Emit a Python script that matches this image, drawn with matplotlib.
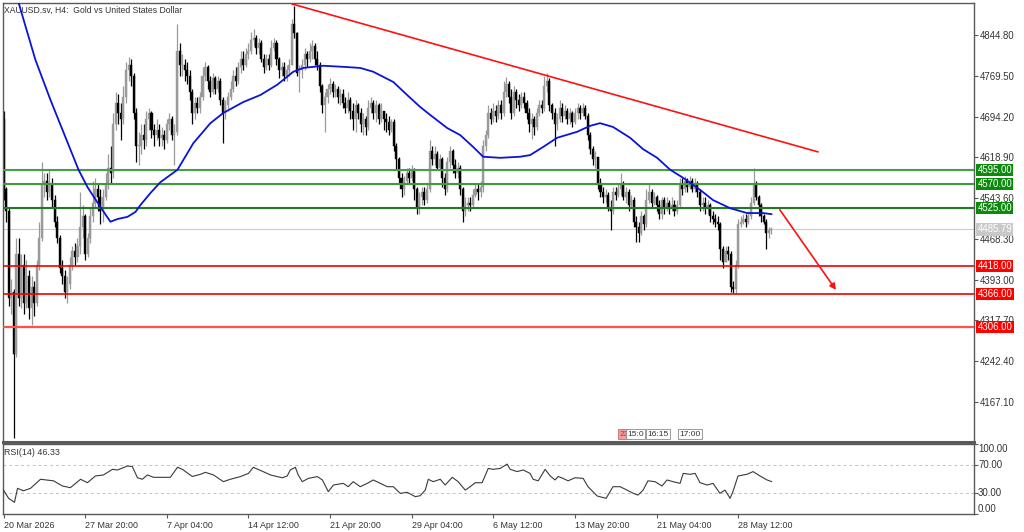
import matplotlib
matplotlib.use("Agg")
import matplotlib.pyplot as plt
from matplotlib.transforms import blended_transform_factory as blend

plt.rcParams['font.family'] = ['Liberation Sans', 'DejaVu Sans']

# ---------------- data ----------------
first_open = 4690
closes = [
    4560, 4520, 4360, 4370, 4255, 4440, 4360, 4420, 4350, 4400,
    4340, 4380, 4350, 4420, 4470, 4570, 4575, 4555, 4570, 4540,
    4500, 4470, 4415, 4400, 4370, 4385, 4420, 4445, 4435, 4455,
    4490, 4510, 4440, 4470, 4510, 4535, 4560, 4545, 4520, 4545,
    4570, 4600, 4590, 4680, 4720, 4700, 4690, 4730, 4780, 4790,
    4770, 4700, 4640, 4640, 4660, 4650, 4690, 4700, 4670, 4660,
    4670, 4655, 4660, 4650, 4680, 4690, 4660, 4665, 4815, 4790,
    4790, 4780, 4770, 4740, 4700, 4720, 4710, 4730, 4770, 4785,
    4760, 4740, 4765, 4745, 4760, 4725, 4700, 4715, 4730, 4745,
    4770, 4760, 4785, 4800, 4790, 4810, 4815, 4835, 4840, 4820,
    4830, 4800, 4785, 4800, 4790, 4820, 4830, 4800, 4780, 4785,
    4770, 4780, 4790, 4865, 4848, 4775, 4780, 4790, 4810, 4800,
    4815, 4825, 4800, 4790, 4750, 4715, 4730, 4745, 4755, 4740,
    4745, 4730, 4735, 4720, 4710, 4725, 4705, 4690, 4715, 4700,
    4680, 4690, 4675, 4710, 4720, 4700, 4715, 4690, 4705, 4690,
    4685, 4670, 4685, 4640, 4615, 4580, 4560, 4575, 4590, 4580,
    4595, 4560, 4525, 4545, 4555, 4540, 4560, 4630, 4615, 4625,
    4600, 4615, 4580, 4560, 4610, 4630, 4605, 4590, 4600, 4560,
    4520, 4530, 4535, 4530, 4550, 4560, 4555, 4565, 4640, 4660,
    4700, 4690, 4705, 4695, 4715, 4700, 4740, 4755, 4730, 4700,
    4740, 4725, 4715, 4730, 4720, 4700, 4680, 4690, 4675, 4700,
    4715, 4710, 4750, 4760, 4715, 4700, 4680, 4690, 4710, 4695,
    4705, 4690, 4700, 4685, 4700, 4710, 4700, 4710, 4695, 4660,
    4635, 4615, 4620, 4570, 4555, 4545, 4550, 4525, 4520, 4555,
    4550, 4560, 4570, 4545, 4555, 4530, 4540, 4500, 4490, 4480,
    4510, 4495, 4540, 4555, 4535, 4545, 4530, 4515, 4540, 4525,
    4535, 4525, 4530, 4520, 4530, 4570, 4560, 4575, 4565, 4575,
    4560, 4570, 4555, 4530, 4535, 4525, 4530, 4510, 4505, 4500,
    4495, 4450, 4425, 4445, 4440, 4380, 4375, 4420, 4495, 4500,
    4505, 4500, 4510, 4535, 4570, 4545, 4530, 4510, 4500, 4480, 4485, 4485.79,
]
highs = [
    4705, 4565, 4525, 4395, 4375, 4470, 4470, 4440, 4440, 4430,
    4410, 4400, 4390, 4430, 4500, 4610, 4590, 4590, 4595, 4580,
    4550, 4510, 4475, 4430, 4410, 4400, 4435, 4455, 4460, 4470,
    4555, 4530, 4515, 4480, 4525, 4575, 4580, 4570, 4560, 4560,
    4590, 4625, 4640, 4700, 4740, 4735, 4720, 4750, 4795, 4805,
    4800, 4775, 4710, 4665, 4680, 4680, 4705, 4710, 4705, 4680,
    4690, 4680, 4675, 4670, 4690, 4700, 4695, 4680, 4865, 4830,
    4810, 4800, 4795, 4780, 4745, 4730, 4730, 4740, 4785, 4795,
    4790, 4770, 4775, 4770, 4770, 4765, 4730, 4725, 4740, 4760,
    4780, 4785, 4795, 4815, 4815, 4820, 4830, 4850, 4855, 4845,
    4840, 4835, 4810, 4810, 4810, 4835, 4840, 4835, 4805, 4795,
    4795, 4790, 4800, 4875, 4898, 4850, 4790, 4800, 4820, 4815,
    4830, 4835, 4830, 4815, 4795, 4755, 4740, 4755, 4765, 4760,
    4755, 4750, 4745, 4745, 4730, 4740, 4730, 4720, 4725, 4720,
    4710, 4700, 4695, 4725, 4730, 4725, 4725, 4720, 4720, 4705,
    4700, 4695, 4690, 4690, 4645, 4620, 4590, 4585, 4600, 4600,
    4605, 4600, 4565, 4555, 4565, 4565, 4570, 4650, 4640, 4640,
    4630, 4625, 4620, 4590, 4620, 4640, 4635, 4615, 4610, 4605,
    4565, 4545, 4545, 4545, 4560, 4570, 4570, 4575, 4650, 4670,
    4715, 4710, 4720, 4715, 4725, 4725, 4760, 4768, 4760, 4745,
    4750, 4745, 4735, 4740, 4740, 4725, 4710, 4700, 4695, 4710,
    4725, 4725, 4770, 4775, 4765, 4720, 4710, 4700, 4725, 4720,
    4715, 4710, 4710, 4705, 4710, 4720, 4715, 4720, 4715, 4700,
    4665, 4640, 4630, 4620, 4580, 4565, 4560, 4555, 4540, 4565,
    4565, 4570, 4590, 4575, 4565, 4560, 4550, 4545, 4510, 4500,
    4520, 4515, 4560, 4572, 4560, 4555, 4550, 4540, 4545, 4545,
    4545, 4540, 4545, 4540, 4540, 4580, 4580, 4585, 4580, 4585,
    4580, 4580, 4575, 4560, 4545, 4545, 4540, 4535, 4520, 4515,
    4510, 4500, 4455, 4455, 4455, 4445, 4390, 4430, 4505, 4510,
    4515, 4515, 4520, 4545, 4600, 4575, 4550, 4535, 4515, 4505, 4490, 4490,
]
lows = [
    4540, 4500, 4345, 4330, 4100, 4250, 4345, 4340, 4330, 4340,
    4320, 4310, 4325, 4345, 4410, 4465, 4545, 4540, 4545, 4525,
    4490, 4460, 4405, 4385, 4360, 4350, 4375, 4410, 4420, 4425,
    4440, 4470, 4430, 4435, 4460, 4500, 4525, 4520, 4495, 4500,
    4540, 4560, 4570, 4580, 4670, 4680, 4650, 4680, 4720, 4760,
    4750, 4690, 4610, 4605, 4625, 4635, 4640, 4670, 4655, 4640,
    4650, 4640, 4640, 4635, 4645, 4670, 4650, 4605, 4660, 4770,
    4770, 4760, 4755, 4725, 4680, 4690, 4700, 4700, 4725, 4760,
    4745, 4730, 4735, 4735, 4740, 4715, 4645, 4690, 4705, 4725,
    4740, 4750, 4755, 4775, 4780, 4785, 4800, 4810, 4825, 4810,
    4810, 4795, 4775, 4780, 4780, 4785, 4815, 4790, 4765, 4770,
    4760, 4760, 4770, 4790, 4840, 4770, 4740, 4765, 4780, 4785,
    4795, 4800, 4790, 4780, 4740, 4700, 4665, 4720, 4735, 4730,
    4730, 4720, 4715, 4710, 4700, 4700, 4690, 4670, 4665, 4690,
    4665, 4660, 4660, 4670, 4700, 4690, 4685, 4680, 4685, 4670,
    4665, 4660, 4665, 4630, 4595, 4570, 4545, 4550, 4570, 4570,
    4575, 4540, 4515, 4515, 4530, 4530, 4535, 4555, 4605, 4605,
    4595, 4595, 4565, 4550, 4555, 4600, 4590, 4580, 4580, 4550,
    4500, 4510, 4520, 4520, 4525, 4545, 4540, 4545, 4555, 4630,
    4655, 4680, 4685, 4685, 4690, 4690, 4695, 4730, 4720, 4690,
    4695, 4710, 4705, 4710, 4710, 4690, 4665, 4652, 4660, 4670,
    4695, 4700, 4705, 4740, 4705, 4690, 4640, 4670, 4685, 4685,
    4690, 4680, 4680, 4675, 4680, 4690, 4690, 4695, 4690, 4650,
    4625, 4605, 4600, 4560, 4545, 4535, 4535, 4520, 4485, 4515,
    4540, 4545, 4550, 4540, 4535, 4520, 4525, 4490, 4462, 4462,
    4475, 4485, 4490, 4535, 4525, 4530, 4520, 4505, 4505, 4515,
    4520, 4515, 4520, 4510, 4515, 4525, 4550, 4555, 4555, 4560,
    4555, 4555, 4545, 4520, 4520, 4515, 4515, 4500, 4495, 4490,
    4485, 4430, 4415, 4425, 4430, 4370, 4368, 4368, 4415, 4490,
    4495, 4490, 4495, 4505, 4530, 4540, 4510, 4500, 4495, 4450, 4470, 4478,
]

ma_bars = [0, 12.5, 18.4, 29.4, 32.9, 38, 41.9, 44.7, 48.6, 51.7, 53.7, 57.6, 61.5,
           68.2, 74.4, 81.1, 86.2, 94, 100.7, 107.3, 113.6, 117.5, 125.3, 133.2,
           139.8, 144.9, 152.8, 158.2, 163.3, 167.3, 173.9, 179, 184.1, 188, 194.7,
           202.5, 206.4, 211.5, 217, 224.8, 229.9, 233.8, 238.9, 245.6, 250.7,
           256.2, 261.3, 266.4, 273, 278.1, 284.8, 291.4, 297.7, 301]
ma_values = [4999, 4799, 4725, 4596, 4564, 4527, 4500, 4505, 4509, 4518, 4531, 4553, 4573,
             4596, 4645, 4682, 4701, 4721, 4734, 4753, 4777, 4784, 4788, 4786,
             4784, 4777, 4758, 4734, 4712, 4697, 4673, 4660, 4638, 4620, 4618,
             4620, 4623, 4638, 4655, 4666, 4677, 4682, 4675, 4655, 4634,
             4618, 4596, 4581, 4559, 4540, 4525, 4516, 4516, 4514]

rsi_bars = [0, 2, 4.3, 5.5, 7.8, 10.6, 14.5, 19.6, 23.1, 26.2, 30.2, 32.9, 36, 39.2,
            42.7, 44.7, 48.6, 50.5, 52.5, 54.4, 56.4, 58.8, 62.7, 65.4, 68.2, 70.1,
            74, 77.2, 79.1, 82.3, 86.2, 88.9, 92.8, 96, 97.9, 101.8, 104.6, 107.3,
            109.3, 111.2, 112.4, 114.4, 115.5, 117.1, 119.5, 123, 125, 127.3, 129.3,
            133.2, 135.1, 137.1, 139.8, 142.6, 144.9, 147.7, 150.4, 152.8, 155.5,
            158.2, 161.4, 163.3, 165.3, 166.5, 168.4, 171.2, 173.1, 175.9, 178.2,
            181, 182.9, 184.9, 187.6, 190, 191.9, 194.7, 197.4, 198.6, 201.3, 203.7,
            206.4, 207.6, 209.6, 212.3, 214.3, 216.2, 217.4, 219.3, 221.3, 224, 227.2,
            229.1, 232.7, 236.2, 238.9, 241.7, 244.4, 246.8, 248.7, 250.7, 252.6,
            255.4, 258.1, 260.1, 262.4, 265.2, 266.4, 269.1, 271.1, 273, 275.8, 278.1,
            280.8, 282.8, 284.8, 285.9, 287.9, 291.4, 293.8, 296.5, 299.3, 301]
rsi_values = [34.1, 22.4, 16.7, 36.7, 33.2, 36.7, 49.6, 47.4, 40.0, 37.6, 49.6, 44.7, 54.3, 55.8,
              63.8, 62.9, 68.6, 67.7, 51.8, 49.6, 55.8, 52.4, 52.4, 52.4, 66.8, 63.8,
              53.6, 56.7, 59.5, 55.8, 46.2, 49.6, 53.4, 58.0, 66.7, 60.5, 55.8, 53.4,
              51.8, 54.3, 62.9, 66.7, 55.8, 46.2, 50.9, 53.4, 48.6, 31.9, 41.4,
              43.8, 39.0, 46.2, 39.0, 43.8, 48.6, 43.8, 39.0, 39.0, 29.5,
              31.0, 24.8, 26.1, 34.1, 49.6, 46.2, 49.6, 41.4, 52.4, 46.2,
              34.1, 39.0, 44.7, 44.7, 65.1, 63.8, 65.1, 71.3, 63.8, 60.6, 62.9,
              58.0, 49.6, 47.4, 63.8, 54.3, 48.6, 53.6, 50.9, 47.4, 51.8, 50.9,
              39.0, 25.7, 22.4, 39.0, 39.0, 34.1, 29.6, 27.0, 34.1, 47.4,
              46.2, 40.0, 48.6, 46.2, 43.8, 58.0, 56.7, 58.0, 44.7, 41.4, 43.8,
              29.6, 34.1, 22.4, 31.9, 54.3, 56.7, 60.6, 54.3, 48.6, 46.33]

green_levels = [4595.00, 4570.00, 4525.00]
red_levels = [4418.00, 4366.00, 4306.00]
last_price = 4485.79
price_ticks = [4844.80, 4769.50, 4694.20, 4618.90, 4543.60, 4468.30, 4393.00,
               4317.70, 4242.40, 4167.10]
date_bars = [0, 32, 64, 96, 128, 160, 192, 224, 256, 288]
date_labels = ['20 Mar 2026', '27 Mar 20:00', '7 Apr 04:00', '14 Apr 12:00',
               '21 Apr 20:00', '29 Apr 04:00', '6 May 12:00', '13 May 20:00',
               '21 May 04:00', '28 May 12:00']
trend_bars = [113.2, 319.2]
trend_prices = [4902, 4629]
arrow_bars = [304.3, 326.3]
arrow_prices = [4522, 4374]
rsi_levels = [70, 30]
rsi_ticks = [100, 70, 30, 0]
rsi_now = 46.33
event_labels = ['23', '15:0', '16:15', '17:00']
event_bars = [241.3, 244.6, 252.4, 264.9]

# ---------------- figure ----------------
W, H = 1024, 532
fig = plt.figure(figsize=(W / 100, H / 100), dpi=100)


def px_axes(l, t, r, b):
    return fig.add_axes([l / W, 1 - b / H, (r - l) / W, (b - t) / H])


ax = px_axes(3, 3, 974, 442)
axr = px_axes(3, 444, 974, 514)

XMIN, XMAX = -0.2, 380.4
SPINE = '#5a5a5a'
TXT = '#333333'

# candles
opens = [first_open] + closes[:-1]
xs = list(range(len(closes)))
up_c, dn_c = '#9a9a9a', '#000000'
cols = [up_c if c >= o else dn_c for o, c in zip(opens, closes)]
ax.vlines(xs, lows, highs, colors=cols, lw=0.9, zorder=2)
bottoms = [min(o, c) for o, c in zip(opens, closes)]
heights = [max(abs(c - o), 1.5) for o, c in zip(opens, closes)]
ax.bar(xs, heights, bottom=bottoms, width=0.8, color=cols, edgecolor=cols,
       linewidth=0.3, zorder=2)

# levels
gcols = ['#44a044', '#3d9a3d', '#207a20']
for lv, gc in zip(green_levels, gcols):
    ax.axhline(lv, color=gc, lw=1.5, zorder=3)
rcols = ['#f00000', '#f00000', '#ff5050']
rlw = [1.2, 1.2, 1.6]
for lv, rc, lw in zip(red_levels, rcols, rlw):
    ax.axhline(lv, color=rc, lw=lw, zorder=3)
ax.axhline(last_price, color='#cccccc', lw=0.8, zorder=1)

# moving average
ax.plot(ma_bars, ma_values, color='#0a14d8', lw=1.3, zorder=4)

# trend line and arrow
ax.plot(trend_bars, trend_prices, color='#ff1010', lw=1.2, zorder=4)
ax.annotate('', xy=(arrow_bars[1], arrow_prices[1]), xytext=(arrow_bars[0], arrow_prices[0]),
            arrowprops=dict(arrowstyle='-|>', color='#ff1010', lw=1.2,
                            mutation_scale=9, shrinkA=0, shrinkB=0), zorder=4)

ax.set_xlim(XMIN, XMAX)
ax.set_ylim(4093.2, 4903.9)
ax.set_xticks([])
ax.yaxis.tick_right()
ax.set_yticks(price_ticks)
ax.set_yticklabels([f'{v:.2f}' for v in price_ticks])
ax.tick_params(axis='y', length=3, width=0.8, color=SPINE, labelcolor=TXT,
               labelsize=6.9, pad=1)
for s in ax.spines.values():
    s.set_color(SPINE)
    s.set_linewidth(1.0)
ax.spines['bottom'].set_linewidth(2.2)

# price boxes on the right
tr = blend(ax.transAxes, ax.transData)
xbox = 1 + 3.5 / 971
for lv in green_levels:
    ax.text(xbox, lv, f'{lv:.2f}', transform=tr, color='white', fontsize=6.9,
            va='center', ha='left', clip_on=False, zorder=6,
            bbox=dict(boxstyle='square,pad=0.12', fc='#0b8a0b', ec='none'))
for lv in red_levels:
    ax.text(xbox, lv, f'{lv:.2f}', transform=tr, color='white', fontsize=6.9,
            va='center', ha='left', clip_on=False, zorder=6,
            bbox=dict(boxstyle='square,pad=0.12', fc='#ff0000', ec='none'))
ax.text(xbox, last_price, f'{last_price:.2f}', transform=tr, color='white', fontsize=6.9,
        va='center', ha='left', clip_on=False, zorder=6,
        bbox=dict(boxstyle='square,pad=0.12', fc='#c8c8c8', ec='none'))

# title
ax.text(0.0015, 0.993, 'XAUUSD.sv, H4:  Gold vs United States Dollar',
        transform=ax.transAxes, va='top', ha='left', fontsize=6.2, color=TXT)

# event markers at the bottom of the price panel
tre = blend(ax.transData, ax.transAxes)
for i, (eb, el) in enumerate(zip(event_bars, event_labels)):
    if i == 0:
        fc, ec, tc = '#f2a0a0', '#c07070', '#d02020'
    else:
        fc, ec, tc = 'white', '#8a8a8a', TXT
    ax.text(eb, 0.018, el, transform=tre, fontsize=6.0, color=tc, va='center',
            ha='left', zorder=7 + i,
            bbox=dict(boxstyle='square,pad=0.15', fc=fc, ec=ec, lw=0.6))

# ---------------- RSI panel ----------------
axr.plot(rsi_bars, rsi_values, color='#3a3a3a', lw=0.8, zorder=3)
for lv in rsi_levels:
    axr.axhline(lv, color='#c4c4c4', lw=0.7, ls=(0, (3, 3)), zorder=1)
axr.set_xlim(XMIN, XMAX)
axr.set_ylim(0, 100)
axr.yaxis.tick_right()
axr.set_yticks(rsi_ticks)
axr.set_yticklabels([])
axr.tick_params(axis='y', length=3, width=0.8, color=SPINE)
trr = blend(axr.transAxes, axr.transData)
for v in rsi_ticks:
    va = 'top' if v == 100 else ('bottom' if v == 0 else 'center')
    axr.text(1 + 4 / 971, v + (-0.5 if v == 100 else (0.5 if v == 0 else 0)),
             f'{v:.2f}', transform=trr, fontsize=6.9, color=TXT, va=va, ha='left',
             clip_on=False)
axr.set_xticks(date_bars)
axr.set_xticklabels(date_labels, ha='left', fontsize=6.4, color=TXT)
axr.tick_params(axis='x', length=3, width=0.8, color=SPINE, pad=2)
for s in axr.spines.values():
    s.set_color(SPINE)
    s.set_linewidth(1.0)
axr.text(0.0015, 0.94, f'RSI(14) {rsi_now:.2f}', transform=axr.transAxes,
         va='top', ha='left', fontsize=6.4, color=TXT)

fig.savefig('out.png', dpi=100, facecolor='white')
